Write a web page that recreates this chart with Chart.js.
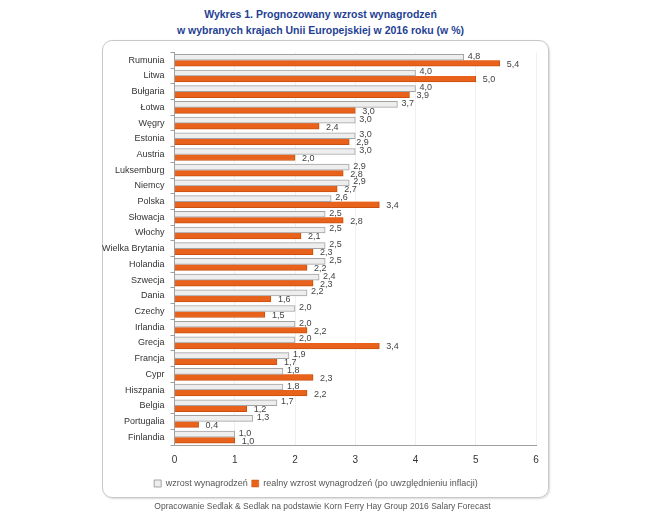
<!DOCTYPE html>
<html>
<head>
<meta charset="utf-8">
<script src="https://cdn.jsdelivr.net/npm/chart.js@4"></script>
<style>
  body { margin: 0; width: 650px; height: 523px; background: #fff; font-family: "Liberation Sans", Arial, sans-serif; position: relative; overflow: hidden; }
  #title { position: absolute; top: 7px; left: 0; width: 641px; text-align: center; color: #1f3f94; font-weight: bold; font-size: 10.5px; line-height: 15.5px; }
  #card { position: absolute; left: 102px; top: 40px; width: 445px; height: 456px; border: 1px solid #c8c8c8; border-radius: 10px; box-shadow: 1px 1px 2px rgba(0,0,0,0.15); }
  #wrap { position: absolute; left: -7px; top: 0; width: 452px; height: 462px; }
  #source { position: absolute; top: 501px; left: 0; width: 645px; text-align: center; color: #555; font-size: 8.5px; }
</style>
</head>
<body>
<div id="title">Wykres 1. Prognozowany wzrost wynagrodzeń<br>w wybranych krajach Unii Europejskiej w 2016 roku (w %)</div>
<div id="card"><div id="wrap"><canvas id="salaryChart"></canvas></div></div>
<div id="source">Opracowanie Sedlak &amp; Sedlak na podstawie Korn Ferry Hay Group 2016 Salary Forecast</div>
<script>
const countries = ['Rumunia', 'Litwa', 'Bułgaria', 'Łotwa', 'Węgry', 'Estonia', 'Austria', 'Luksemburg', 'Niemcy', 'Polska',
  'Słowacja', 'Włochy', 'Wielka Brytania', 'Holandia', 'Szwecja', 'Dania', 'Czechy', 'Irlandia', 'Grecja', 'Francja',
  'Cypr', 'Hiszpania', 'Belgia', 'Portugalia', 'Finlandia']
const nominal = [4.8, 4.0, 4.0, 3.7, 3.0, 3.0, 3.0, 2.9, 2.9, 2.6, 2.5, 2.5, 2.5, 2.5, 2.4, 2.2, 2.0, 2.0, 2.0, 1.9, 1.8, 1.8, 1.7, 1.3, 1.0]
const real = [5.4, 5.0, 3.9, 3.0, 2.4, 2.9, 2.0, 2.8, 2.7, 3.4, 2.8, 2.1, 2.3, 2.2, 2.3, 1.6, 1.5, 2.2, 3.4, 1.7, 2.3, 2.2, 1.2, 0.4, 1.0]
const xTicks = [0, 1, 2, 3, 4, 5, 6]

// value labels with Polish decimal comma
const valueLabels = {
  id: 'valueLabels',
  afterDatasetsDraw(chart) {
    const ctx = chart.ctx
    ctx.save()
    ctx.font = '9px "Liberation Sans", Arial, sans-serif'
    ctx.fillStyle = '#444'
    ctx.textBaseline = 'middle'
    chart.data.datasets.forEach((ds, di) => {
      chart.getDatasetMeta(di).data.forEach((bar, i) => {
        const txt = ds.data[i].toFixed(1).replace('.', ',')
        const dx = di === 0 ? 4 : 7
        const dy = di === 0 ? -1 : 1
        ctx.fillText(txt, bar.x + dx, bar.y + dy)
      })
    })
    ctx.restore()
  }
}

const ctx = document.getElementById('salaryChart').getContext('2d')
const config = {
  type: 'bar',
  data: {
    labels: countries,
    datasets: [{
      label: 'wzrost wynagrodzeń',
      data: nominal,
      backgroundColor: '#eeeeee',
      borderColor: '#a3a3a3',
      borderWidth: 1,
      barThickness: 6
    }, {
      label: 'realny wzrost wynagrodzeń (po uwzględnieniu inflacji)',
      data: real,
      backgroundColor: '#e8621c',
      borderColor: '#c9500f',
      borderWidth: { bottom: 1, right: 1 },
      barThickness: 6
    }]
  },
  options: {
    indexAxis: 'y',
    responsive: true,
    maintainAspectRatio: false,
    animation: false,
    layout: { padding: { top: 9, right: 12, left: 0, bottom: 5 } },
    scales: {
      x: {
        min: 0,
        max: 6,
        afterBuildTicks: axis => { axis.ticks = xTicks.map(v => ({ value: v })) },
        grid: { color: '#f0f0f0', drawTicks: false },
        border: { color: '#a0a0a0' },
        ticks: { color: '#333', padding: 9, font: { size: 10, family: '"Liberation Sans", Arial, sans-serif' } }
      },
      y: {
        grid: { drawOnChartArea: false, tickLength: 4, color: '#a0a0a0' },
        border: { color: '#a0a0a0' },
        ticks: { color: '#333', padding: 6, font: { size: 9, family: '"Liberation Sans", Arial, sans-serif' } }
      }
    },
    plugins: {
      legend: {
        position: 'bottom',
        labels: {
          boxWidth: 7,
          boxHeight: 7,
          padding: 4,
          color: '#555',
          font: { size: 9, family: '"Liberation Sans", Arial, sans-serif' }
        }
      },
      tooltip: { enabled: false }
    }
  },
  plugins: [valueLabels]
}
const salaryChart = new Chart(ctx, config)
</script>
</body>
</html>
